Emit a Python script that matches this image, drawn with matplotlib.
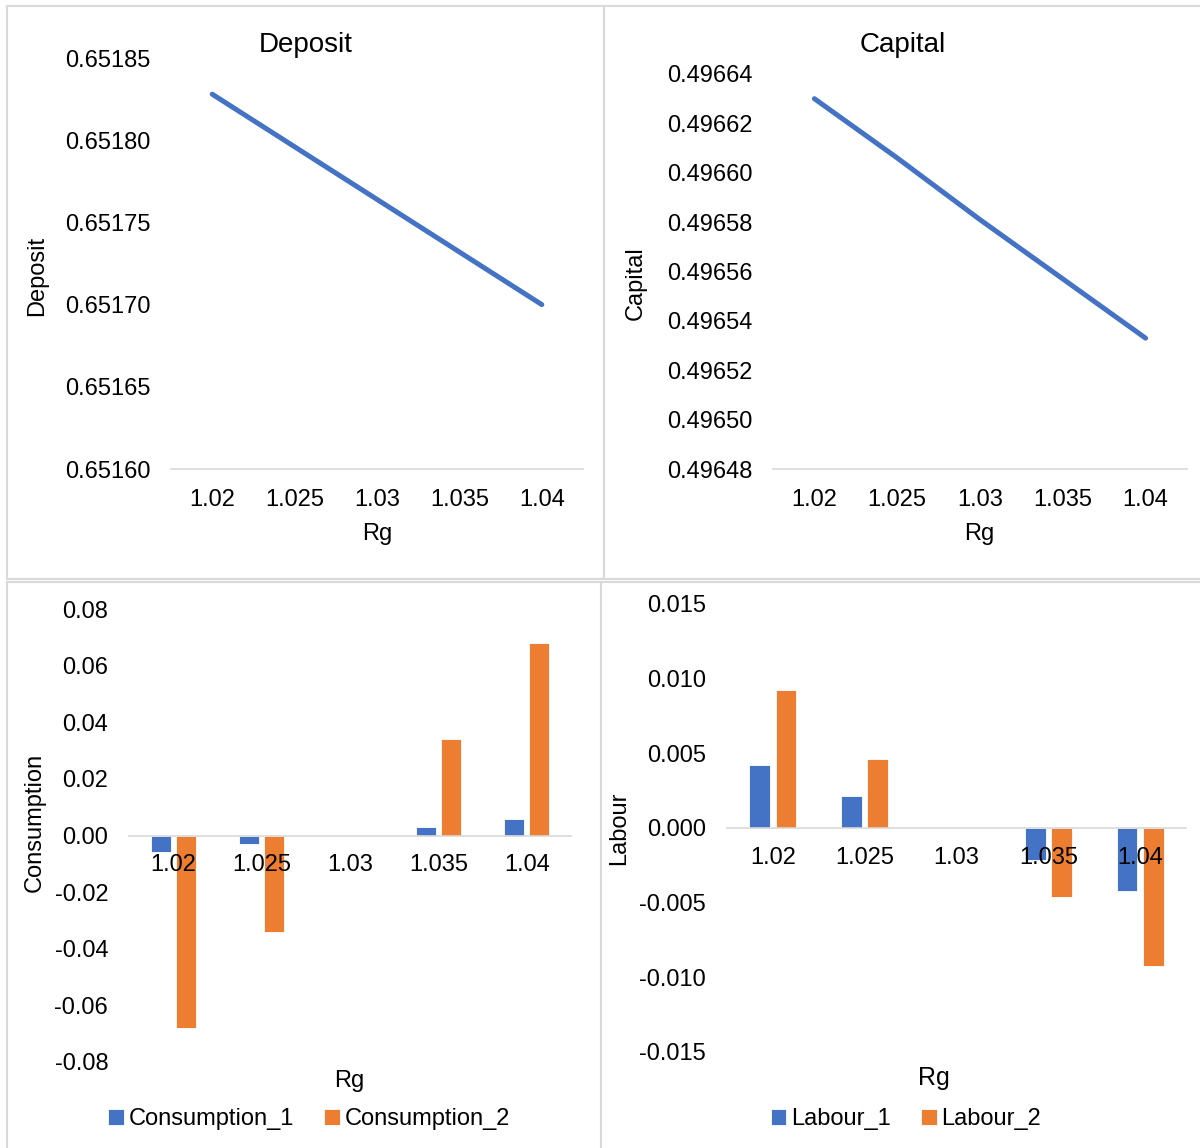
import numpy as np
import matplotlib
matplotlib.use("Agg")
import matplotlib.pyplot as plt
from matplotlib.patches import Rectangle

plt.rcParams['font.family'] = ['Liberation Sans', 'DejaVu Sans']

# Data
rg = ['1.02', '1.025', '1.03', '1.035', '1.04']
deposit = [0.651828, 0.651796, 0.651764, 0.651732, 0.651700]
capital = [0.496630, 0.496606, 0.496581, 0.496557, 0.496533]
consumption_1 = [-0.006, -0.003, 0.0, 0.003, 0.006]
consumption_2 = [-0.068, -0.034, 0.0, 0.034, 0.068]
labour_1 = [0.00423, 0.00212, 0.0, -0.00212, -0.00423]
labour_2 = [0.00922, 0.00462, 0.0, -0.00462, -0.00922]

BLUE = '#4472C4'
ORANGE = '#ED7D31'
GRID = '#D9D9D9'
FS = 17

W, H = 1200, 1148
fig = plt.figure(figsize=(W / 100, H / 100), dpi=100)


def box(x0, y0, x1, y1):
    # pixel box (top-left origin) -> figure fraction rect
    return [x0 / W, 1 - y1 / H, (x1 - x0) / W, (y1 - y0) / H]


def fxy(x, y):
    return x / W, 1 - y / H


def style_axes(ax):
    for s in ['left', 'top', 'right']:
        ax.spines[s].set_visible(False)
    ax.spines['bottom'].set_color(GRID)
    ax.spines['bottom'].set_linewidth(1.2)
    ax.tick_params(axis='both', length=0, labelsize=FS, colors='black')
    ax.tick_params(axis='y', pad=15)
    ax.set_xlim(-0.5, len(rg) - 0.5)
    ax.set_xticks(np.arange(len(rg)))
    ax.set_xticklabels(rg)
    ax.patch.set_visible(False)


# panel borders
for x0, y0, x1, y1 in [(7, 6, 604, 579), (604, 6, 1203, 579),
                       (7, 582, 601, 1151), (601, 582, 1203, 1151)]:
    fig.patches.append(Rectangle(fxy(x0, y1), (x1 - x0) / W, (y1 - y0) / H,
                                 transform=fig.transFigure, fill=False,
                                 edgecolor=GRID, linewidth=1.5))

x = np.arange(len(rg))

# Deposit
ax1 = fig.add_axes(box(171, 58, 583, 469))
style_axes(ax1)
ax1.plot(x, deposit, color=BLUE, linewidth=3.6, solid_capstyle='round')
ax1.set_ylim(0.65160, 0.65185)
ax1.set_yticks(np.arange(0.65160, 0.651851, 0.00005))
ax1.yaxis.set_major_formatter(matplotlib.ticker.FormatStrFormatter('%.5f'))
ax1.tick_params(axis='x', pad=14.5)
fig.text(*fxy(306, 45), 'Deposit', fontsize=20, ha='center', va='center')
fig.text(*fxy(37, 276), 'Deposit', fontsize=FS, rotation=90, ha='center', va='center')
fig.text(*fxy(377, 534), 'Rg', fontsize=FS, ha='center', va='center')

# Capital
ax2 = fig.add_axes(box(773, 74, 1187, 469))
style_axes(ax2)
ax2.plot(x, capital, color=BLUE, linewidth=3.6, solid_capstyle='round')
ax2.set_ylim(0.49648, 0.49664)
ax2.set_yticks(np.arange(0.49648, 0.496641, 0.00002))
ax2.yaxis.set_major_formatter(matplotlib.ticker.FormatStrFormatter('%.5f'))
ax2.tick_params(axis='x', pad=14.5)
fig.text(*fxy(903, 45), 'Capital', fontsize=20, ha='center', va='center')
fig.text(*fxy(636, 283), 'Capital', fontsize=FS, rotation=90, ha='center', va='center')
fig.text(*fxy(979, 534), 'Rg', fontsize=FS, ha='center', va='center')

bw, off = 0.225, 0.143

# Consumption
ax3 = fig.add_axes(box(129, 609, 571, 1062))
style_axes(ax3)
b1 = ax3.bar(x - off, consumption_1, width=bw, color=BLUE, edgecolor='white', linewidth=0.6)
b2 = ax3.bar(x + off, consumption_2, width=bw, color=ORANGE, edgecolor='white', linewidth=0.6)
ax3.set_ylim(-0.08, 0.08)
ax3.set_yticks(np.arange(-0.08, 0.0801, 0.02))
ax3.yaxis.set_major_formatter(matplotlib.ticker.FormatStrFormatter('%.2f'))
ax3.spines['bottom'].set_position(('data', 0))
ax3.tick_params(axis='x', pad=13.5)
fig.text(*fxy(35, 822), 'Consumption', fontsize=FS, rotation=90, ha='center', va='center')
fig.text(*fxy(349, 1081), 'Rg', fontsize=FS, ha='center', va='center')
fig.legend([b1, b2], ['Consumption_1', 'Consumption_2'], loc='center',
           bbox_to_anchor=fxy(309, 1119), ncol=2, frameon=False, fontsize=FS,
           handlelength=0.65, handleheight=0.65, handletextpad=0.2,
           columnspacing=1.3)

# Labour
ax4 = fig.add_axes(box(727, 604, 1186, 1052))
style_axes(ax4)
l1 = ax4.bar(x - off, labour_1, width=bw, color=BLUE, edgecolor='white', linewidth=0.6)
l2 = ax4.bar(x + off, labour_2, width=bw, color=ORANGE, edgecolor='white', linewidth=0.6)
ax4.set_ylim(-0.015, 0.015)
ax4.set_yticks(np.arange(-0.015, 0.01501, 0.005))
ax4.yaxis.set_major_formatter(matplotlib.ticker.FormatStrFormatter('%.3f'))
ax4.spines['bottom'].set_position(('data', 0))
ax4.tick_params(axis='x', pad=13.5)
fig.text(*fxy(619, 828), 'Labour', fontsize=FS, rotation=90, ha='center', va='center')
fig.text(*fxy(934, 1078), 'Rg', fontsize=18, ha='center', va='center')
fig.legend([l1, l2], ['Labour_1', 'Labour_2'], loc='center',
           bbox_to_anchor=fxy(906, 1119), ncol=2, frameon=False, fontsize=FS,
           handlelength=0.65, handleheight=0.65, handletextpad=0.2,
           columnspacing=1.3)

fig.savefig('out.png', dpi=100, facecolor='white')
